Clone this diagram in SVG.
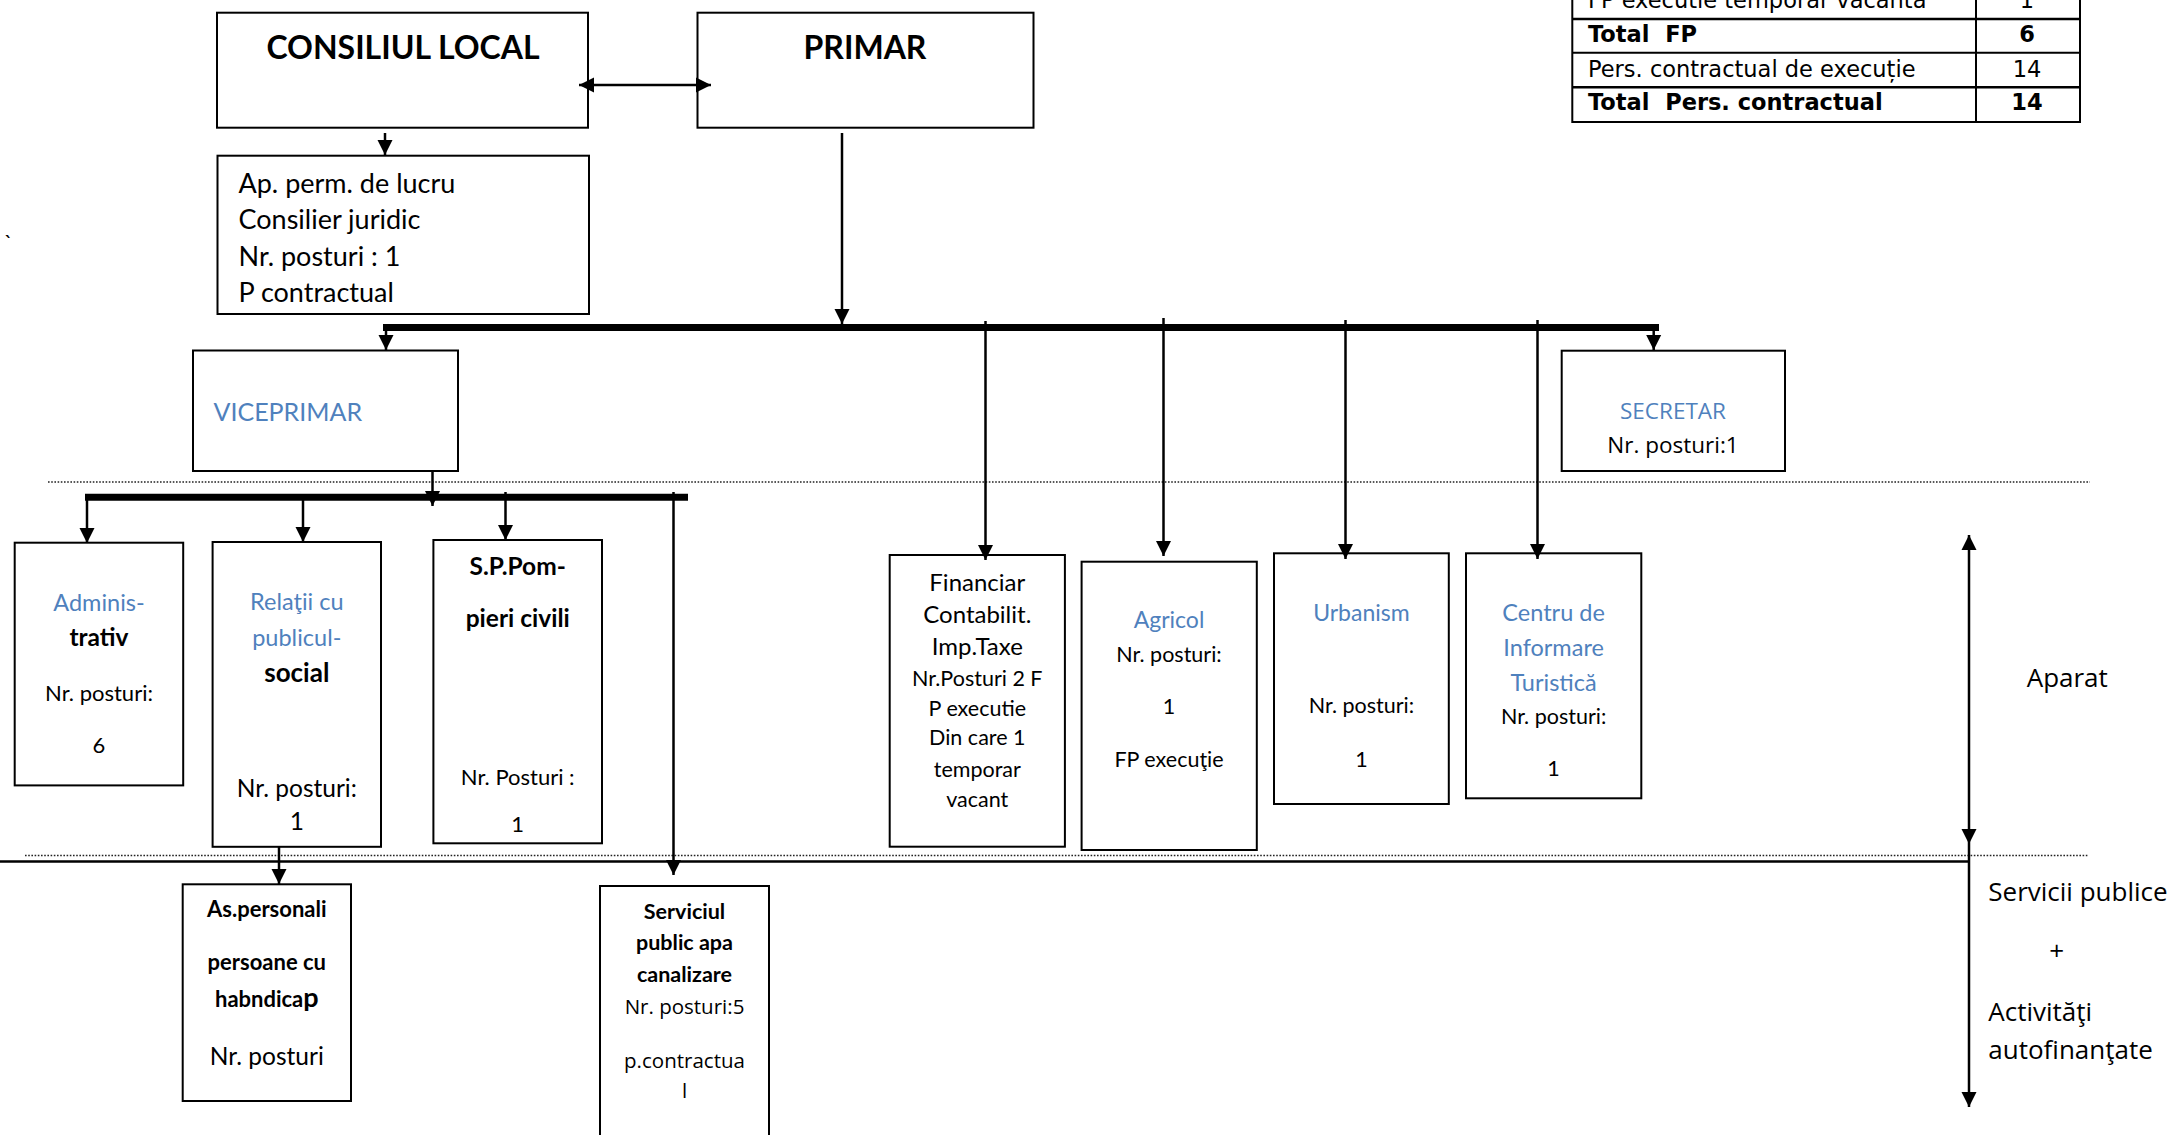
<svg xmlns="http://www.w3.org/2000/svg" width="2170" height="1135" viewBox="0 0 2170 1135">
<defs>
<style>
.box{fill:#fff;stroke:#000;stroke-width:2}
.ln{stroke:#000;stroke-width:2.5;fill:none}
.bus{stroke:#000;stroke-width:7;fill:none}
.dot{stroke:#222;stroke-width:1.6;stroke-dasharray:1.6 1.6;fill:none}
.t{font-family:Lato,"Liberation Sans",sans-serif;fill:#000}
.o{font-family:"Open Sans","DejaVu Sans",sans-serif;fill:#000}
.d{font-family:"DejaVu Sans","Open Sans",sans-serif;fill:#000;font-size:22.5px;white-space:pre}
.b{font-weight:bold}
.m{text-anchor:middle}
.blue{fill:#4F81BD}
</style>
<marker id="ah" markerUnits="userSpaceOnUse" markerWidth="16" markerHeight="16" viewBox="0 0 16 16" refX="15" refY="8" orient="auto-start-reverse">
<path d="M0,0.5 L15,8 L0,15.5 Z" fill="#000"/>
</marker>
</defs>

<g id="separators">
<line class="dot" x1="48" y1="482" x2="2090" y2="482"/>
<line class="dot" x1="25" y1="855.5" x2="2089" y2="855.5"/>
<line class="ln" x1="0" y1="861.5" x2="1969" y2="861.5"/>
</g>

<g id="consiliul-local">
<rect class="box" x="217" y="12.7" width="371" height="115"/>
<text class="t b m" x="403" y="59" font-size="32">CONSILIUL LOCAL</text>
</g>

<g id="primar">
<rect class="box" x="697.5" y="12.7" width="336" height="115"/>
<text class="t b m" x="865" y="59" font-size="32">PRIMAR</text>
</g>

<g id="aparat-permanent">
<rect class="box" x="217.5" y="155.7" width="371.5" height="158.3"/>
<text class="t" x="238.5" y="193" font-size="27">Ap. perm. de lucru</text>
<text class="t" x="238.5" y="229" font-size="27">Consilier juridic</text>
<text class="t" x="238.5" y="266" font-size="27">Nr. posturi : 1</text>
<text class="t" x="238.5" y="302" font-size="27">P contractual</text>
</g>

<text class="t" x="4" y="250" font-size="22">`</text>

<g id="viceprimar">
<rect class="box" x="193" y="350.5" width="265" height="120.5"/>
<text class="t blue" x="213.5" y="421" font-size="25">VICEPRIMAR</text>
</g>

<g id="secretar">
<rect class="box" x="1561.7" y="350.7" width="223.3" height="120.3"/>
<text class="o blue m" x="1673" y="419" font-size="22.5">SECRETAR</text>
<text class="o m" x="1673" y="453.3" font-size="22.5">Nr. posturi:1</text>
</g>

<g id="administrativ">
<rect class="box" x="14.7" y="542.7" width="168.5" height="242.7"/>
<text class="t blue m" x="99" y="611" font-size="23.5">Adminis-</text>
<text class="t b m" x="99" y="646" font-size="24.5">trativ</text>
<text class="t m" x="99" y="700.6" font-size="22">Nr. posturi:</text>
<text class="t m" x="99" y="753" font-size="22">6</text>
</g>

<g id="relatii-public">
<rect class="box" x="212.6" y="542" width="168.4" height="304.8"/>
<text class="t blue m" x="296.8" y="610.4" font-size="23.5">Relaţii cu</text>
<text class="t blue m" x="296.8" y="646" font-size="23.5">publicul-</text>
<text class="t b m" x="296.8" y="682" font-size="26">social</text>
<text class="t m" x="296.8" y="797" font-size="24.5">Nr. posturi:</text>
<text class="t m" x="296.8" y="830" font-size="24.5">1</text>
</g>

<g id="pompieri">
<rect class="box" x="433.4" y="540" width="168.6" height="303.3"/>
<text class="t b m" x="517.7" y="575.3" font-size="24.5">S.P.Pom-</text>
<text class="t b m" x="517.7" y="627" font-size="24.5">pieri civili</text>
<text class="t m" x="517.7" y="784.7" font-size="22">Nr. Posturi :</text>
<text class="t m" x="517.7" y="832" font-size="22">1</text>
</g>

<g id="financiar">
<rect class="box" x="889.7" y="555" width="175.2" height="291.7"/>
<text class="t m" x="977.3" y="590.7" font-size="24">Financiar</text>
<text class="t m" x="977.3" y="623.3" font-size="24">Contabilit.</text>
<text class="t m" x="977.3" y="655" font-size="24">Imp.Taxe</text>
<text class="t m" x="977.3" y="685.7" font-size="21.5">Nr.Posturi 2 F</text>
<text class="t m" x="977.3" y="716" font-size="21.5">P executie</text>
<text class="t m" x="977.3" y="745.3" font-size="21.5">Din care 1</text>
<text class="t m" x="977.3" y="776.7" font-size="21.5">temporar</text>
<text class="t m" x="977.3" y="807.3" font-size="21.5">vacant</text>
</g>

<g id="agricol">
<rect class="box" x="1081.6" y="561.7" width="175.2" height="288.3"/>
<text class="t blue m" x="1169" y="628.3" font-size="23">Agricol</text>
<text class="t m" x="1169" y="661.7" font-size="21.5">Nr. posturi:</text>
<text class="t m" x="1169" y="714.3" font-size="21.5">1</text>
<text class="t m" x="1169" y="766.7" font-size="21.5">FP execuţie</text>
</g>

<g id="urbanism">
<rect class="box" x="1274" y="553.3" width="174.8" height="250.7"/>
<text class="t blue m" x="1361.4" y="621" font-size="23">Urbanism</text>
<text class="t m" x="1361.4" y="713.3" font-size="21.5">Nr. posturi:</text>
<text class="t m" x="1361.4" y="766.7" font-size="21.5">1</text>
</g>

<g id="centru-informare">
<rect class="box" x="1466" y="553.3" width="175.3" height="245"/>
<text class="t blue m" x="1553.6" y="621" font-size="23.5">Centru de</text>
<text class="t blue m" x="1553.6" y="656" font-size="23.5">Informare</text>
<text class="t blue m" x="1553.6" y="690.7" font-size="23.5">Turistică</text>
<text class="t m" x="1553.6" y="724" font-size="21.5">Nr. posturi:</text>
<text class="t m" x="1553.6" y="776" font-size="21.5">1</text>
</g>

<g id="asistenti-personali">
<rect class="box" x="182.7" y="884.3" width="168.3" height="216.7"/>
<text class="t b m" x="266.8" y="917.3" font-size="22">As.personali</text>
<text class="t b m" x="266.8" y="970" font-size="22">persoane cu</text>
<text class="t b m" x="266.8" y="1006.7" font-size="22">habndica<tspan font-size="27">p</tspan></text>
<text class="t m" x="266.8" y="1065" font-size="24.5">Nr. posturi</text>
</g>

<g id="serviciul-apa">
<rect class="box" x="600" y="886" width="169" height="260"/>
<text class="t b m" x="684.5" y="919.3" font-size="21.5">Serviciul</text>
<text class="t b m" x="684.5" y="950" font-size="21.5">public apa</text>
<text class="t b m" x="684.5" y="982.3" font-size="21.5">canalizare</text>
<text class="o m" x="684.5" y="1014" font-size="20.5">Nr. posturi:5</text>
<text class="o m" x="684.5" y="1068.3" font-size="20.5">p.contractua</text>
<text class="o m" x="684.5" y="1098.3" font-size="20.5">l</text>
</g>

<g id="tabel">
<rect x="1572.3" y="-16" width="507.7" height="138" fill="#fff" stroke="#000" stroke-width="2"/>
<line x1="1976" y1="-16" x2="1976" y2="122" stroke="#000" stroke-width="2"/>
<line x1="1572.3" y1="19" x2="2080" y2="19" stroke="#000" stroke-width="2.5"/>
<line x1="1572.3" y1="52.7" x2="2080" y2="52.7" stroke="#000" stroke-width="2"/>
<line x1="1572.3" y1="87.3" x2="2080" y2="87.3" stroke="#000" stroke-width="2.5"/>
<text class="d" x="1588" y="8">FP executie temporar vacanta</text>
<text class="d m" x="2027" y="8">1</text>
<text class="d b" x="1588" y="41.7">Total  FP</text>
<text class="d b m" x="2027" y="41.7">6</text>
<text class="d" x="1588" y="76.7">Pers. contractual de execuție</text>
<text class="d m" x="2027" y="76.7">14</text>
<text class="d b" x="1588" y="110">Total  Pers. contractual</text>
<text class="d b m" x="2027" y="110">14</text>
</g>

<g id="legenda">
<text class="o" x="2026.7" y="687" font-size="26">Aparat</text>
<text class="o" x="1988.3" y="901" font-size="26">Servicii publice</text>
<text class="o m" x="2056.7" y="960" font-size="26">+</text>
<text class="o" x="1988.3" y="1021" font-size="26">Activităţi</text>
<text class="o" x="1988.3" y="1059" font-size="26">autofinanţate</text>
</g>

<g id="connectors">
<line class="ln" x1="579" y1="85" x2="711" y2="85" marker-start="url(#ah)" marker-end="url(#ah)"/>
<line class="ln" x1="385" y1="133" x2="385" y2="155" marker-end="url(#ah)"/>
<line class="ln" x1="842" y1="133" x2="842" y2="324" marker-end="url(#ah)"/>
<line class="bus" x1="383" y1="327.5" x2="1659" y2="327.5"/>
<line class="ln" x1="386" y1="327" x2="386" y2="350" marker-end="url(#ah)"/>
<line class="ln" x1="985.5" y1="321" x2="985.5" y2="560" marker-end="url(#ah)"/>
<line class="ln" x1="1163.5" y1="318" x2="1163.5" y2="556" marker-end="url(#ah)"/>
<line class="ln" x1="1345.5" y1="320" x2="1345.5" y2="559" marker-end="url(#ah)"/>
<line class="ln" x1="1537.5" y1="320" x2="1537.5" y2="559" marker-end="url(#ah)"/>
<line class="ln" x1="1653.7" y1="327" x2="1653.7" y2="350" marker-end="url(#ah)"/>
<line class="ln" x1="432.5" y1="471" x2="432.5" y2="506" marker-end="url(#ah)"/>
<line class="bus" x1="85" y1="497.3" x2="688" y2="497.3"/>
<line class="ln" x1="87" y1="497" x2="87" y2="543" marker-end="url(#ah)"/>
<line class="ln" x1="303" y1="497" x2="303" y2="542" marker-end="url(#ah)"/>
<line class="ln" x1="505.5" y1="492" x2="505.5" y2="540" marker-end="url(#ah)"/>
<line class="ln" x1="673.5" y1="492" x2="673.5" y2="875" marker-end="url(#ah)"/>
<line class="ln" x1="279" y1="847" x2="279" y2="884" marker-end="url(#ah)"/>
<line class="ln" x1="1969" y1="535" x2="1969" y2="844" marker-start="url(#ah)" marker-end="url(#ah)"/>
<line class="ln" x1="1969" y1="844" x2="1969" y2="1107" marker-end="url(#ah)"/>
</g>
</svg>
